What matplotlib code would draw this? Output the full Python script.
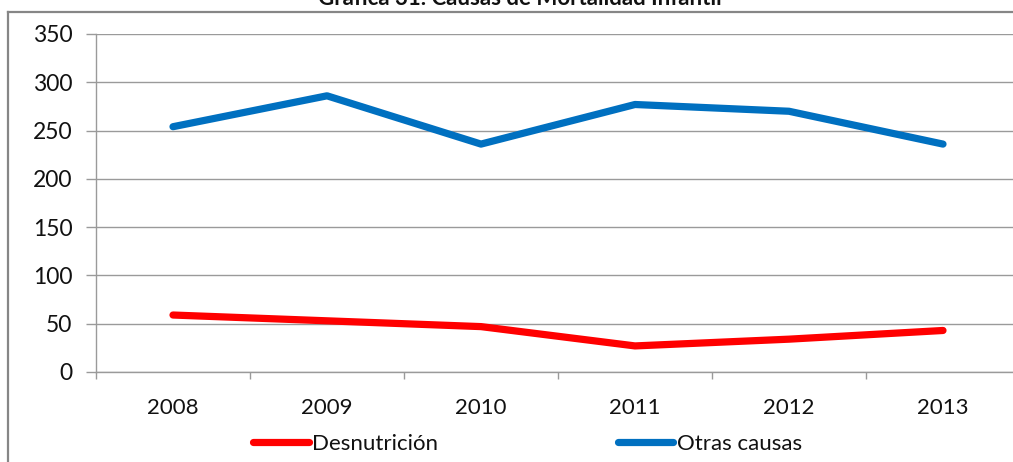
import matplotlib
matplotlib.use("Agg")
import matplotlib.pyplot as plt
from matplotlib.lines import Line2D

plt.rcParams["font.family"] = ["Lato", "DejaVu Sans"]

# data
years = ["2008", "2009", "2010", "2011", "2012", "2013"]
desnutricion = [59, 53, 47, 27, 34, 43]
otras_causas = [254, 286, 236, 277, 270, 236]
y_ticks = [0, 50, 100, 150, 200, 250, 300, 350]

W, H = 1013, 462
fig = plt.figure(figsize=(W / 100, H / 100), dpi=100)
fig.patch.set_facecolor("white")

# plot area: left 96px, top 34px, bottom 372px, 154px per category
ax = fig.add_axes([96 / W, (H - 372) / H, 924 / W, 338 / H])
x = list(range(len(years)))

ax.plot(x, desnutricion, color="#FF0000", lw=5.2, solid_capstyle="round",
        solid_joinstyle="round", label="Desnutrición", zorder=3)
ax.plot(x, otras_causas, color="#0070C0", lw=5.2, solid_capstyle="round",
        solid_joinstyle="round", label="Otras causas", zorder=3)

ax.set_xlim(-0.5, len(years) - 0.5)
ax.set_ylim(0, 350)
ax.set_yticks(y_ticks)
ax.set_yticklabels([str(v) for v in y_ticks])
ax.yaxis.grid(True, color="#9a9a9a", lw=1.0)
ax.set_axisbelow(True)

ax.set_xticks(x)
ax.set_xticklabels(years)
ax.set_xticks([i - 0.5 for i in range(len(years) + 1)], minor=True)
ax.tick_params(axis="x", which="major", length=0, pad=19, labelsize=16,
               labelcolor="#111111")
ax.tick_params(axis="x", which="minor", length=5, width=1, color="#9a9a9a",
               direction="out")
ax.tick_params(axis="y", length=7, width=1, color="#9a9a9a", pad=10,
               labelsize=16.5, labelcolor="#111111")

for side in ["top", "right"]:
    ax.spines[side].set_visible(False)
for side in ["left", "bottom"]:
    ax.spines[side].set_color("#9a9a9a")
    ax.spines[side].set_linewidth(1.0)

# outer chart border (cropped at right/bottom)
fig.add_artist(Line2D([8 / W, 8 / W], [0, 1 - 12 / H], transform=fig.transFigure,
                      color="#868686", lw=1.6))
fig.add_artist(Line2D([8 / W, 1], [1 - 12 / H, 1 - 12 / H], transform=fig.transFigure,
                      color="#868686", lw=1.6))

# title, mostly cut off at the top as in the source
fig.text(520 / W, 1 - 5 / H, "Gráfica 31. Causas de Mortalidad Infantil",
         ha="center", va="baseline", fontsize=16, fontweight="bold",
         color="#111111")

leg = fig.legend(loc="center left", bbox_to_anchor=(253 / W, 1 - 444 / H),
                 ncol=2, frameon=False, fontsize=16, handlelength=2.5,
                 handletextpad=0.15, columnspacing=8.1, borderpad=0,
                 borderaxespad=0)
for t in leg.get_texts():
    t.set_color("#111111")

fig.savefig("out.png", dpi=100)
